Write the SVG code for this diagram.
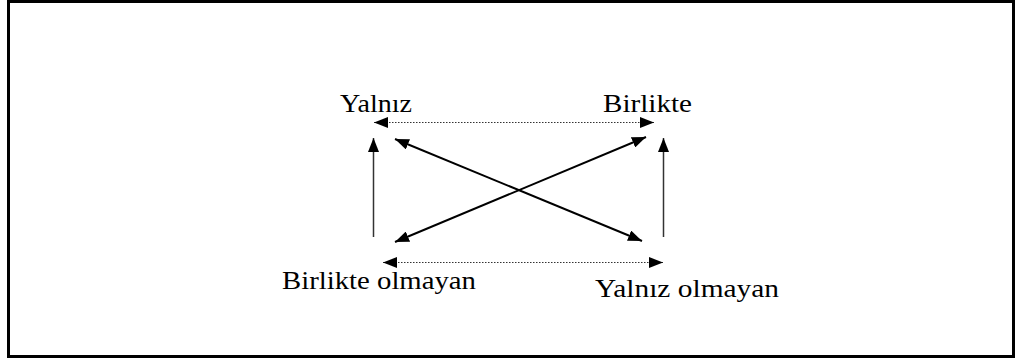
<svg xmlns="http://www.w3.org/2000/svg" width="1021" height="360" viewBox="0 0 1021 360">
<defs>
<marker id="ah" viewBox="0 0 14 11" refX="14" refY="5.5" markerWidth="14" markerHeight="11" markerUnits="userSpaceOnUse" orient="auto-start-reverse">
<path d="M0,0 L14,5.5 L0,11 Z" fill="#000"/>
</marker>
<style>
.lbl{font-family:"Liberation Serif","Times New Roman",serif;font-size:25px;fill:#000}
.solid{stroke:#000;stroke-width:2;fill:none}
.vert{stroke:#333;stroke-width:1.5;fill:none}
.dot{stroke:#333;stroke-width:1.2;stroke-dasharray:1.5 1.5;fill:none}
</style>
</defs>
<rect x="0" y="0" width="1021" height="360" fill="#fff"/>
<rect x="8.5" y="1.5" width="1005" height="355" fill="#fff" stroke="#000" stroke-width="3"/>
<g id="node-yalniz"><text class="lbl" x="340" y="112" textLength="72" lengthAdjust="spacingAndGlyphs">Yalnız</text></g>
<g id="node-birlikte"><text class="lbl" x="603" y="112" textLength="89" lengthAdjust="spacingAndGlyphs">Birlikte</text></g>
<g id="node-birlikte-olmayan"><text class="lbl" x="282" y="289" textLength="194" lengthAdjust="spacingAndGlyphs">Birlikte olmayan</text></g>
<g id="node-yalniz-olmayan"><text class="lbl" x="595" y="297" textLength="184" lengthAdjust="spacingAndGlyphs">Yalnız olmayan</text></g>
<g id="connectors">
<line class="dot" x1="374" y1="122.5" x2="654" y2="122.5" marker-start="url(#ah)" marker-end="url(#ah)"/>
<line class="dot" x1="383" y1="262.5" x2="663" y2="262.5" marker-start="url(#ah)" marker-end="url(#ah)"/>
<line class="vert" x1="373.5" y1="237" x2="373.5" y2="138" marker-end="url(#ah)"/>
<line class="vert" x1="663.5" y1="237" x2="663.5" y2="138" marker-end="url(#ah)"/>
<line class="solid" x1="395" y1="139" x2="642" y2="241" marker-start="url(#ah)" marker-end="url(#ah)"/>
<line class="solid" x1="395" y1="242" x2="646" y2="137" marker-start="url(#ah)" marker-end="url(#ah)"/>
</g>
</svg>
